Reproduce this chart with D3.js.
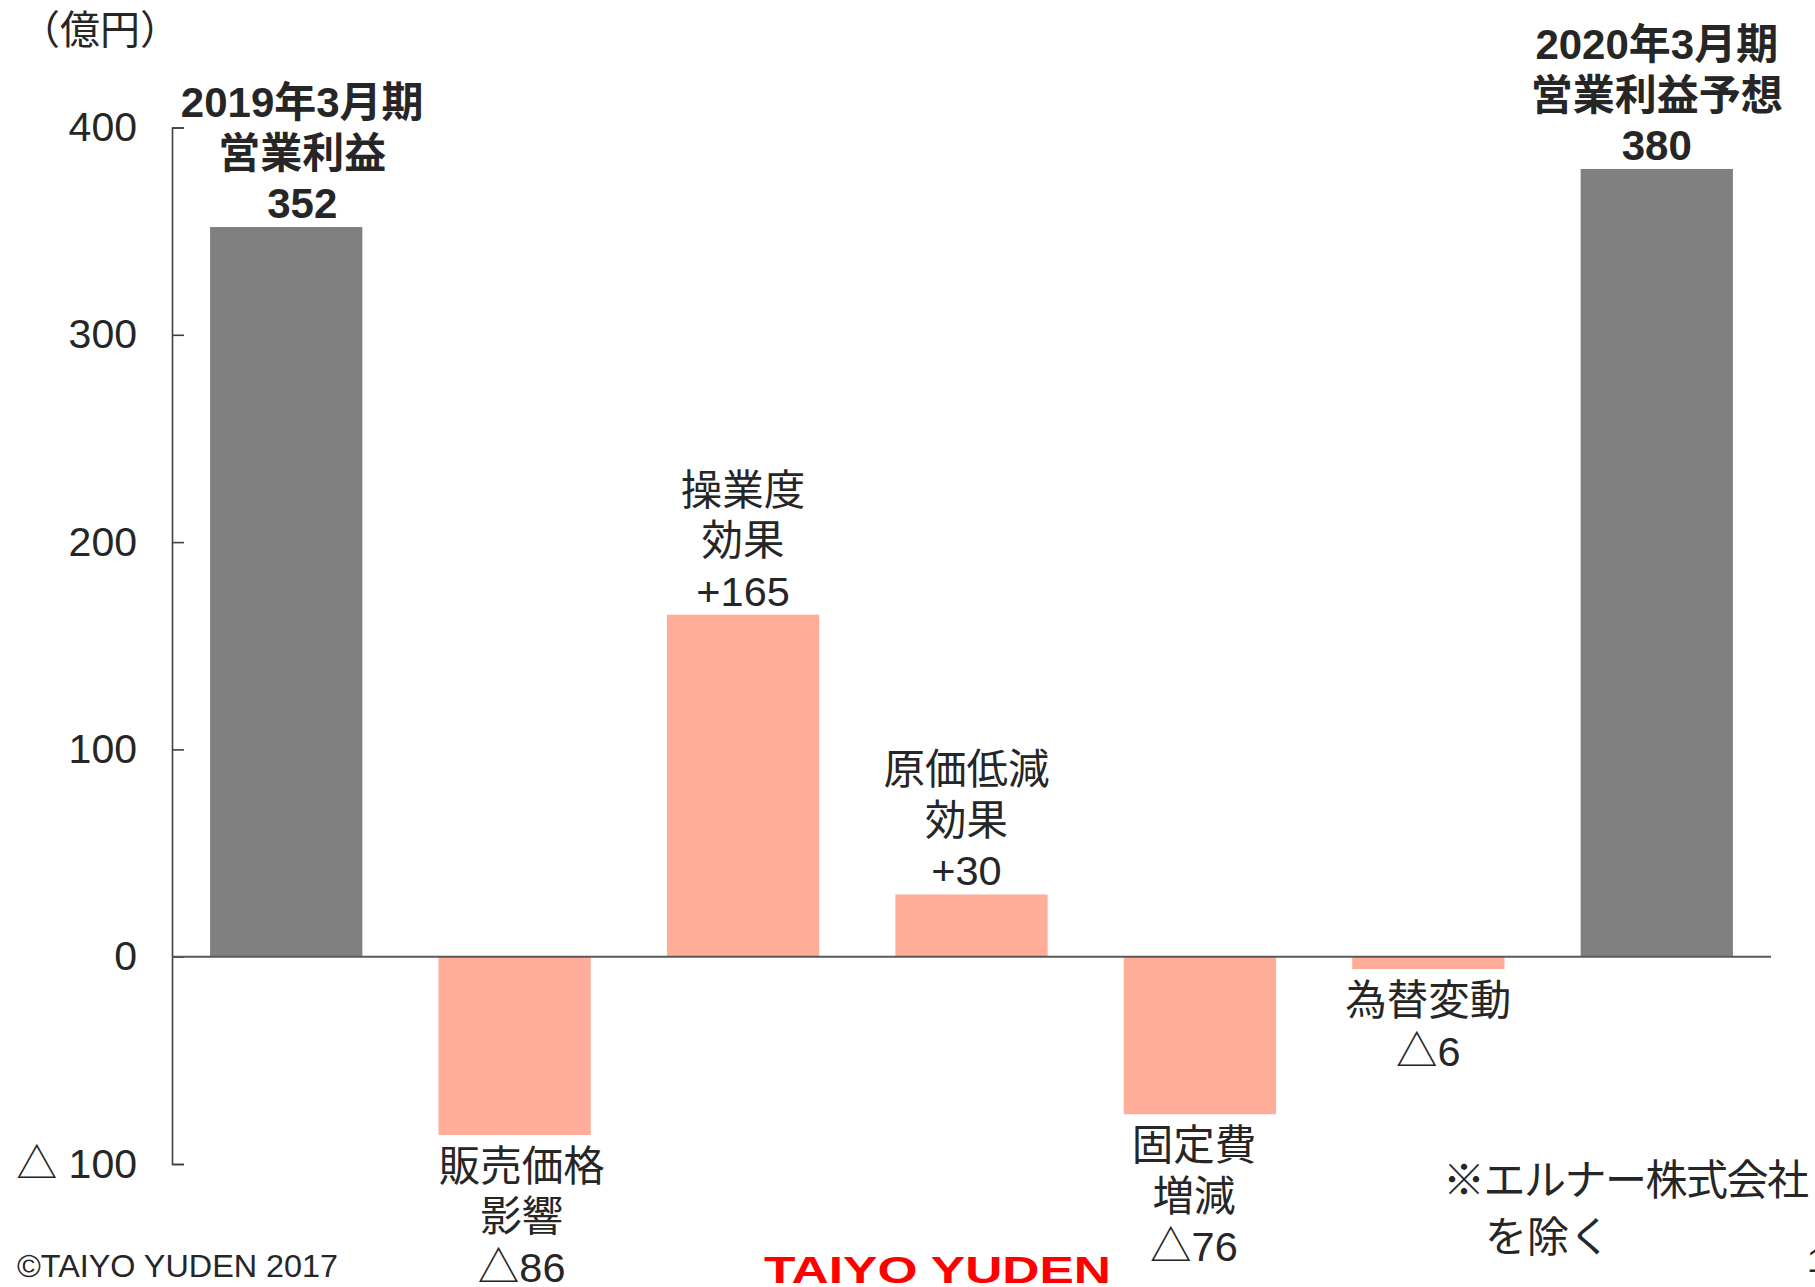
<html>
<head>
<meta charset="utf-8">
<style>
  body { margin: 0; background: #fff; }
  svg { display: block; }
  text { font-family: "Liberation Sans", "Noto Sans CJK JP", sans-serif; fill: #262626; }
</style>
<script src="https://cdn.jsdelivr.net/npm/d3@7"></script>
</head>
<body>
<svg id="chart"></svg>
<script>
// values in 億円
let categories = ["2019年3月期営業利益", "販売価格影響", "操業度効果", "原価低減効果", "固定費増減", "為替変動", "2020年3月期営業利益予想"]
let labelLines = [
  ["2019年3月期", "営業利益"],
  ["販売価格", "影響"],
  ["操業度", "効果"],
  ["原価低減", "効果"],
  ["固定費", "増減"],
  ["為替変動"],
  ["2020年3月期", "営業利益予想"]
]
let values = [352, -86, 165, 30, -76, -6, 380]
let isTotal = [true, false, false, false, false, false, true]
let yTicks = [-100, 0, 100, 200, 300, 400]

let width = 1815, height = 1287
// small horizontal nudges of the bar labels, as in the slide
let labelShift = [16, 7, 0, -5, -6, 0, 0]

let svg = d3.select("#chart").attr("width", width).attr("height", height)

let xScale = d3.scaleBand()
  .domain(categories)
  .range([172, 1771])
  .paddingInner(1 / 3)
  .paddingOuter(1 / 6)

let yScale = d3.scaleLinear()
  .domain([-100, 400])
  .range([1164, 127.5])

function fmtTick(d) {
  return d < 0 ? "△ " + Math.abs(d) : d
}
function fmtValue(v, total) {
  if (total) return "" + v
  return v < 0 ? "△" + Math.abs(v) : "+" + v
}

// bars
let data = categories.map((c, i) => ({ cat: c, value: values[i], total: isTotal[i], lines: labelLines[i], shift: labelShift[i] }))

svg.selectAll("rect.bar").data(data).enter().append("rect")
  .attr("class", "bar")
  .attr("x", d => xScale(d.cat))
  .attr("width", xScale.bandwidth())
  .attr("y", d => yScale(Math.max(0, d.value)))
  .attr("height", d => Math.abs(yScale(d.value) - yScale(0)))
  .attr("fill", d => d.total ? "#808080" : "#ffad99")

// y axis
let axisY = d3.axisLeft(yScale)
  .tickValues(yTicks)
  .tickFormat(fmtTick)
  .tickSizeInner(-12)
  .tickSizeOuter(-12)
  .tickPadding(35)

let gAxis = svg.append("g")
  .attr("transform", "translate(172,0)")
  .call(axisY)
gAxis.selectAll("path, line").attr("stroke", "#404040").attr("stroke-width", 1.6)
gAxis.selectAll("text")
  .style("font-size", "41px")
  .style("font-family", "'Liberation Sans', 'Noto Sans CJK JP', sans-serif")
  .attr("fill", "#262626")

// zero line
svg.append("line")
  .attr("x1", 172).attr("x2", 1771)
  .attr("y1", yScale(0)).attr("y2", yScale(0))
  .attr("stroke", "#595959").attr("stroke-width", 2)

// bar labels
let lineGap = 50.5
data.forEach(d => {
  let lines = d.lines.concat([fmtValue(d.value, d.total)])
  let cx = xScale(d.cat) + xScale.bandwidth() / 2 + d.shift
  let n = lines.length
  lines.forEach((t, j) => {
    let cy
    if (d.value >= 0) cy = yScale(d.value) - 24 - (n - 1 - j) * lineGap
    else cy = yScale(d.value) + 31 + j * lineGap
    svg.append("text")
      .attr("x", cx).attr("y", cy).attr("dy", "0.36em")
      .attr("text-anchor", "middle")
      .style("font-size", d.total ? "42px" : "41.5px")
      .style("font-weight", d.total ? "bold" : "normal")
      .text(t)
  })
})

// unit
svg.append("text").attr("x", 20).attr("y", 30).attr("dy", "0.36em")
  .style("font-size", "40px").text("（億円）")

// note
svg.append("text").attr("x", 1443).attr("y", 1180).attr("dy", "0.36em")
  .style("font-size", "42px")
  .attr("textLength", 366).attr("lengthAdjust", "spacing")
  .text("※エルナー株式会社")
svg.append("text").attr("x", 1443).attr("y", 1237).attr("dy", "0.36em")
  .style("font-size", "42px").text("\u3000を除く")

// footer
svg.append("text").attr("x", 17).attr("y", 1265).attr("dy", "0.36em")
  .style("font-size", "32px")
  .attr("textLength", 321).attr("lengthAdjust", "spacingAndGlyphs")
  .text("©TAIYO YUDEN 2017")
svg.append("text").attr("x", 764).attr("y", 1283)
  .style("font-size", "36px").style("font-weight", "bold")
  .attr("textLength", 347).attr("lengthAdjust", "spacingAndGlyphs")
  .style("fill", "#ff0000").text("TAIYO YUDEN")
svg.append("text").attr("x", 1807).attr("y", 1272)
  .style("font-size", "34px").text("1")
</script>
</body>
</html>
